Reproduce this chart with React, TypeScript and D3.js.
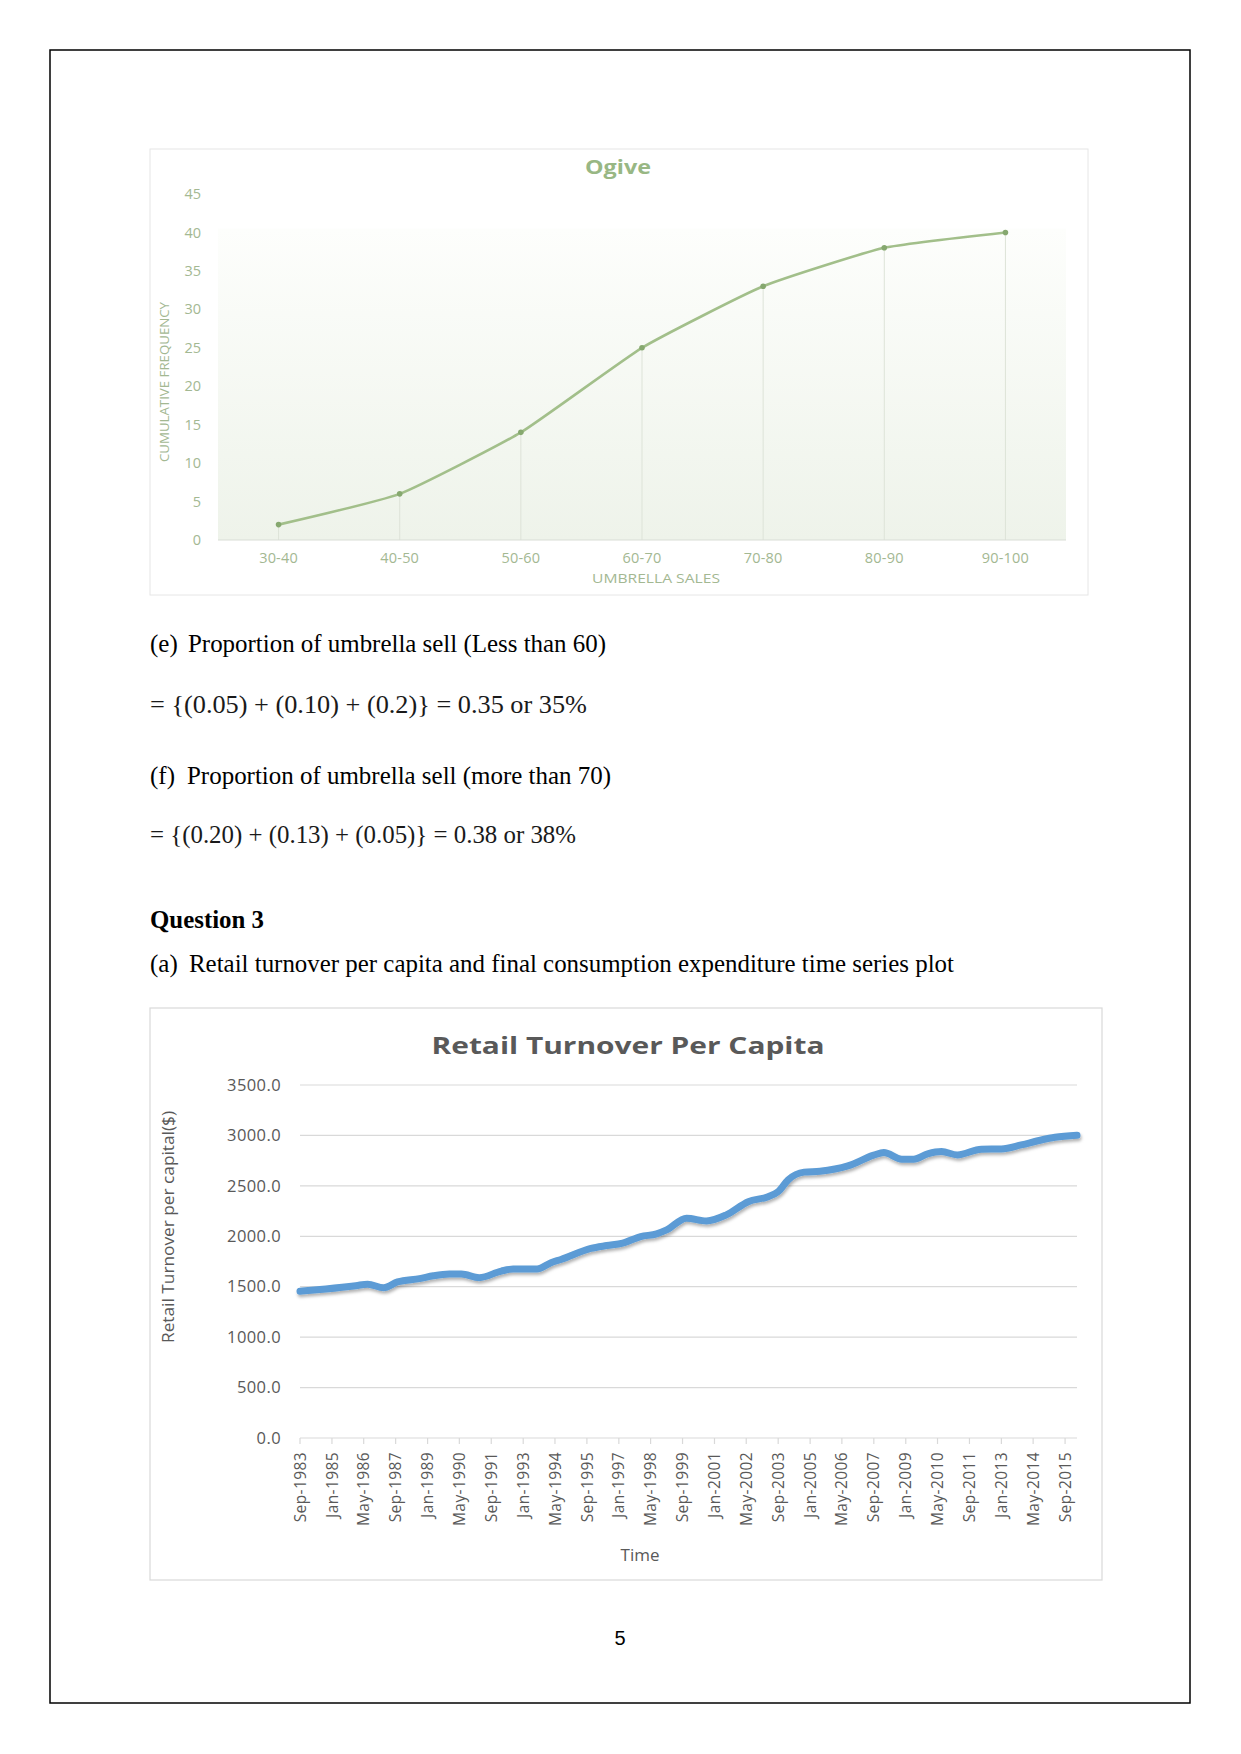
import React from "react";
import * as d3 from "d3";

// ---------- Ogive data ----------
const ogiveCategories = ["30-40", "40-50", "50-60", "60-70", "70-80", "80-90", "90-100"];
const ogiveCumFreq = [2, 6, 14, 25, 33, 38, 40];
const ogiveYTicks = [0, 5, 10, 15, 20, 25, 30, 35, 40, 45];

// ---------- Retail turnover data ----------
const retailDates = [
  "1983-09", "1984-10", "1986-01", "1986-07", "1987-03", "1987-10", "1988-09", "1989-04",
  "1989-12", "1990-06", "1991-03", "1992-02", "1992-08", "1993-08", "1994-03", "1994-08",
  "1995-11", "1996-07", "1997-03", "1997-12", "1998-08", "1999-01", "1999-11", "2000-09",
  "2001-07", "2002-06", "2003-04", "2003-09", "2004-02", "2004-10", "2005-06", "2006-08",
  "2007-09", "2008-02", "2008-11", "2009-05", "2009-12", "2010-07", "2011-03", "2012-03",
  "2013-01", "2013-11", "2014-09", "2015-04", "2016-03",
];
const retailValues = [
  1455, 1478, 1510, 1525, 1490, 1547, 1580, 1608,
  1625, 1625, 1590, 1655, 1675, 1675, 1738, 1770,
  1880, 1908, 1932, 1997, 2024, 2063, 2179, 2152,
  2212, 2343, 2393, 2443, 2560, 2636, 2645, 2698,
  2804, 2830, 2765, 2765, 2817, 2840, 2807, 2864,
  2866, 2906, 2955, 2982, 3002,
];
const retailTickLabels = [
  "Sep-1983", "Jan-1985", "May-1986", "Sep-1987", "Jan-1989", "May-1990", "Sep-1991",
  "Jan-1993", "May-1994", "Sep-1995", "Jan-1997", "May-1998", "Sep-1999", "Jan-2001",
  "May-2002", "Sep-2003", "Jan-2005", "May-2006", "Sep-2007", "Jan-2009", "May-2010",
  "Sep-2011", "Jan-2013", "May-2014", "Sep-2015",
];
const retailYTicks = [0, 500, 1000, 1500, 2000, 2500, 3000, 3500];

const serif = "'Liberation Serif', 'Times New Roman', serif";
const sans = "'Open Sans', 'Noto Sans', sans-serif";

function Ogive() {
  const x = d3.scaleBand<string>().domain(ogiveCategories).range([218, 1066]);
  const y = d3.scaleLinear().domain([0, 45]).range([540, 194]);
  const pts = ogiveCategories.map((c, i) => [x(c)! + x.bandwidth() / 2, y(ogiveCumFreq[i])] as [number, number]);
  const line = d3.line().curve(d3.curveCardinal.tension(0.55))(pts) || "";
  const labelColor = "#a3b892";
  return (
    <g>
      <defs>
        <linearGradient id="ogbg" x1="0" y1="0" x2="0" y2="1">
          <stop offset="0" stopColor="#fdfefc" />
          <stop offset="1" stopColor="#eef3ea" />
        </linearGradient>
      </defs>
      <rect x={150} y={149} width={938} height={446} fill="#fff" stroke="#e6e6e6" strokeWidth={1} />
      <rect x={x.range()[0]} y={y(40.5)} width={x.range()[1] - x.range()[0]} height={y(0) - y(40.5)} fill="url(#ogbg)" />
      <text x={618} y={174} textAnchor="middle" fontFamily={sans} fontWeight={700} fontSize={20} fill="#98b784" textLength={66} lengthAdjust="spacingAndGlyphs">Ogive</text>
      {ogiveYTicks.map((t) => (
        <text key={t} x={201} y={y(t)} dy="0.35em" textAnchor="end" fontFamily={sans} fontSize={14.5} fill={labelColor}>{t}</text>
      ))}
      {pts.map((p, i) => (
        <line key={i} x1={p[0]} x2={p[0]} y1={p[1]} y2={y(0)} stroke="#dde3d8" strokeWidth={1} />
      ))}
      <line x1={x.range()[0]} x2={x.range()[1]} y1={y(0)} y2={y(0)} stroke="#d9ddd6" strokeWidth={1} />
      <path d={line} fill="none" stroke="#a2bf8a" strokeWidth={2.6} />
      {pts.map((p, i) => (
        <circle key={i} cx={p[0]} cy={p[1]} r={2.8} fill="#86a86f" />
      ))}
      {ogiveCategories.map((c) => (
        <text key={c} x={x(c)! + x.bandwidth() / 2} y={558} dy="0.35em" textAnchor="middle" fontFamily={sans} fontSize={14.5} letterSpacing={0.2} fill={labelColor}>{c}</text>
      ))}
      <text x={656} y={583} textAnchor="middle" fontFamily={sans} fontSize={13.5} fill={labelColor} textLength={128} lengthAdjust="spacingAndGlyphs">UMBRELLA SALES</text>
      <text transform="translate(164,382) rotate(-90)" dy="0.35em" textAnchor="middle" fontFamily={sans} fontSize={13.5} fill={labelColor} textLength={160} lengthAdjust="spacingAndGlyphs">CUMULATIVE FREQUENCY</text>
    </g>
  );
}

function Retail() {
  const parse = d3.timeParse("%Y-%m");
  const parseTick = d3.timeParse("%b-%Y");
  const x = d3.scaleTime().domain([parse("1983-09")!, parse("2016-03")!]).range([300, 1077]);
  const y = d3.scaleLinear().domain([0, 3500]).range([1438, 1085]);
  const data = retailDates.map((d, i) => [x(parse(d)!), y(retailValues[i])] as [number, number]);
  const line = d3.line().curve(d3.curveMonotoneX)(data) || "";
  const fmt = d3.format(".1f");
  const gray = "#595959";
  return (
    <g>
      <defs>
        <filter id="shadow" x="-5%" y="-5%" width="110%" height="120%">
          <feDropShadow dx={1} dy={2.5} stdDeviation={1.5} floodColor="#000" floodOpacity={0.3} />
        </filter>
      </defs>
      <rect x={150} y={1008} width={952} height={572} fill="#fff" stroke="#d9d9d9" strokeWidth={1.2} />
      <text x={628} y={1054} textAnchor="middle" fontFamily={sans} fontWeight={700} fontSize={24} fill={gray} textLength={393} lengthAdjust="spacingAndGlyphs">Retail Turnover  Per Capita</text>
      {retailYTicks.map((t) => (
        <g key={t}>
          <line x1={300} x2={1077} y1={y(t)} y2={y(t)} stroke="#d9d9d9" strokeWidth={1.2} />
          <text x={281} y={y(t)} dy="0.35em" textAnchor="end" fontFamily={sans} fontSize={16.5} letterSpacing={0.4} fill={gray}>{fmt(t)}</text>
        </g>
      ))}
      {retailTickLabels.map((l) => {
        const tx = x(parseTick(l)!);
        return (
          <g key={l}>
            <line x1={tx} x2={tx} y1={1438} y2={1444} stroke="#d9d9d9" strokeWidth={1.2} />
            <text transform={`translate(${tx},1452) rotate(-90)`} dy="0.36em" textAnchor="end" fontFamily={sans} fontSize={15.5} letterSpacing={0.4} fill={gray}>{l}</text>
          </g>
        );
      })}
      <path d={line} fill="none" stroke="#5b9bd5" strokeWidth={7} strokeLinejoin="round" strokeLinecap="round" filter="url(#shadow)" />
      <text x={640} y={1561} textAnchor="middle" fontFamily={sans} fontSize={17} fill={gray}>Time</text>
      <text transform="translate(168,1227) rotate(-90)" dy="0.35em" textAnchor="middle" fontFamily={sans} fontSize={16} fill={gray} textLength={232} lengthAdjust="spacingAndGlyphs">Retail Turnover per capital($)</text>
    </g>
  );
}

export default function App() {
  return (
    <svg width={1241} height={1754} viewBox="0 0 1241 1754" style={{ position: "absolute", left: 0, top: 0, display: "block", background: "#fff" }}>
      <rect x={0} y={0} width={1241} height={1754} fill="#fff" />
      <rect x={50} y={50} width={1140} height={1653} fill="none" stroke="#000" strokeWidth={1.5} />
      <Ogive />
      <g fontFamily={serif} fontSize={25} fill="#000">
        <text x={150} y={652}>(e)</text>
        <text x={188} y={652} textLength={418} lengthAdjust="spacingAndGlyphs">Proportion of umbrella sell (Less than 60)</text>
        <text x={150} y={713} fill="#1a1a1a" textLength={437} lengthAdjust="spacingAndGlyphs">= {"{"}(0.05) + (0.10) + (0.2){"}"} = 0.35 or 35%</text>
        <text x={150} y={784}>(f)</text>
        <text x={187} y={784} textLength={424} lengthAdjust="spacingAndGlyphs">Proportion of umbrella sell (more than 70)</text>
        <text x={150} y={843} fill="#1a1a1a" textLength={426} lengthAdjust="spacingAndGlyphs">= {"{"}(0.20) + (0.13) + (0.05){"}"} = 0.38 or 38%</text>
        <text x={150} y={928} fontWeight={700} textLength={114} lengthAdjust="spacingAndGlyphs">Question 3</text>
        <text x={150} y={972}>(a)</text>
        <text x={189} y={972} textLength={765} lengthAdjust="spacingAndGlyphs">Retail turnover per capita and final consumption expenditure time series plot</text>
      </g>
      <Retail />
      <text x={620} y={1645} textAnchor="middle" fontFamily="'Liberation Sans', sans-serif" fontSize={20} fill="#000">5</text>
    </svg>
  );
}
